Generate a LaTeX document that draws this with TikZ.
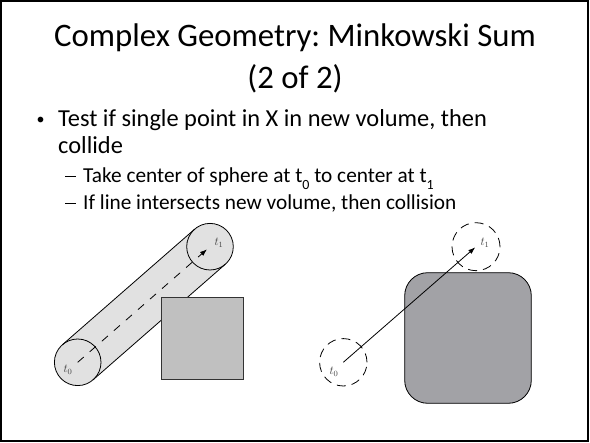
\documentclass[tikz,border=0pt]{standalone}
\usepackage{fontspec}
\setmainfont{Carlito}
\usetikzlibrary{arrows.meta,calc}
\definecolor{cylgray}{HTML}{E1E1E1}
\definecolor{boxgray}{HTML}{C0C0C0}
\definecolor{sumgray}{HTML}{A2A2A6}
\newcommand\mysub[1]{\raisebox{-0.3em}{\fontsize{14}{14}\selectfont #1}}
\newcommand\mydash{\rule[5.8pt]{11pt}{1.1pt}}
\frenchspacing
\begin{document}
\begin{tikzpicture}[x=1pt,y=-1pt,
  titletext/.style={inner sep=0pt,anchor=base,font=\fontsize{32.8}{32.8}\selectfont},
  bodytext/.style={inner sep=0pt,anchor=base west,font=\fontsize{24.4}{24.4}\selectfont},
  subtext/.style={inner sep=0pt,anchor=base west,font=\fontsize{21.3}{21.3}\selectfont},
  tlabel/.style={inner sep=0pt,font=\fontsize{11.5}{11.5}\selectfont,text=black!75},
  shape line/.style={line width=0.8pt},
  arrowtip/.style={-{Latex[length=7pt,width=5pt]}}]
\useasboundingbox (0,0) rectangle (590,443);
\draw[line width=2pt] (1,1.5) rectangle (587.5,441.5);
% title
\node[titletext] (title1) at (295,46.7) {Complex Geometry: Minkowski Sum};
\node[titletext] (title2) at (295,88.3) {(2 of 2)};
% bullets
\node[inner sep=0pt,anchor=base west,font=\fontsize{16}{16}\selectfont] (b1dot) at (36.5,124.5) {•};
\node[bodytext] (b1) at (58,126.7) {Test if single point in X in new volume, then};
\node[bodytext] (b1b) at (58,153.3) {collide};
\node[subtext] (s1dash) at (65,183) {\mydash};
\node[subtext] (s1) at (83,183) {Take center of sphere at t\mysub{0} to center at t\mysub{1}};
\node[subtext] (s2dash) at (65,210) {\mydash};
\node[subtext] (s2) at (83,210) {If line intersects new volume, then collision};
% left figure: swept sphere
\coordinate (c0) at (77.7,362.3);
\coordinate (c1) at (210,246.7);
\coordinate (u0) at ($(c0)!23.3pt!90:(c1)$);
\coordinate (u1) at ($(c1)!23.3pt!-90:(c0)$);
\coordinate (l0) at ($(c0)!23.3pt!-90:(c1)$);
\coordinate (l1) at ($(c1)!23.3pt!90:(c0)$);
\fill[cylgray] (u0) -- (u1) -- (l1) -- (l0) -- cycle;
\filldraw[shape line,fill=cylgray] (c0) circle (23.3pt);
\filldraw[shape line,fill=cylgray] (c1) circle (23.3pt);
\draw[shape line] (u0) -- (u1);
\draw[shape line] (l0) -- (l1);
\draw[shape line,arrowtip,dash pattern=on 8pt off 8pt,shorten >=4pt] (c0) -- (c1);
\node[tlabel] (lt0) at (68,370) {$t_0$};
\node[tlabel] (lt1) at (219,243) {$t_1$};
\node[draw=black!80,shape line,fill=boxgray,minimum width=82pt,minimum height=82pt,inner sep=0pt] (box) at (202,338) {};
% right figure: Minkowski sum
\node[draw,shape line,fill=sumgray,rounded corners=23pt,minimum width=126.6pt,minimum height=130.6pt,inner sep=0pt] (sum) at (468,338) {};
\coordinate (d0) at (343.3,362.3);
\coordinate (d1) at (476,246.7);
\draw[shape line,dash pattern=on 9pt off 6pt] (d0) circle (23.7pt);
\draw[shape line,dash pattern=on 9pt off 6pt] (d1) circle (24pt);
\draw[shape line,arrowtip,shorten >=1pt] (d0) -- (d1);
\node[tlabel] (rt0) at (334,371.7) {$t_0$};
\node[tlabel] (rt1) at (485,243) {$t_1$};
\end{tikzpicture}
\end{document}
